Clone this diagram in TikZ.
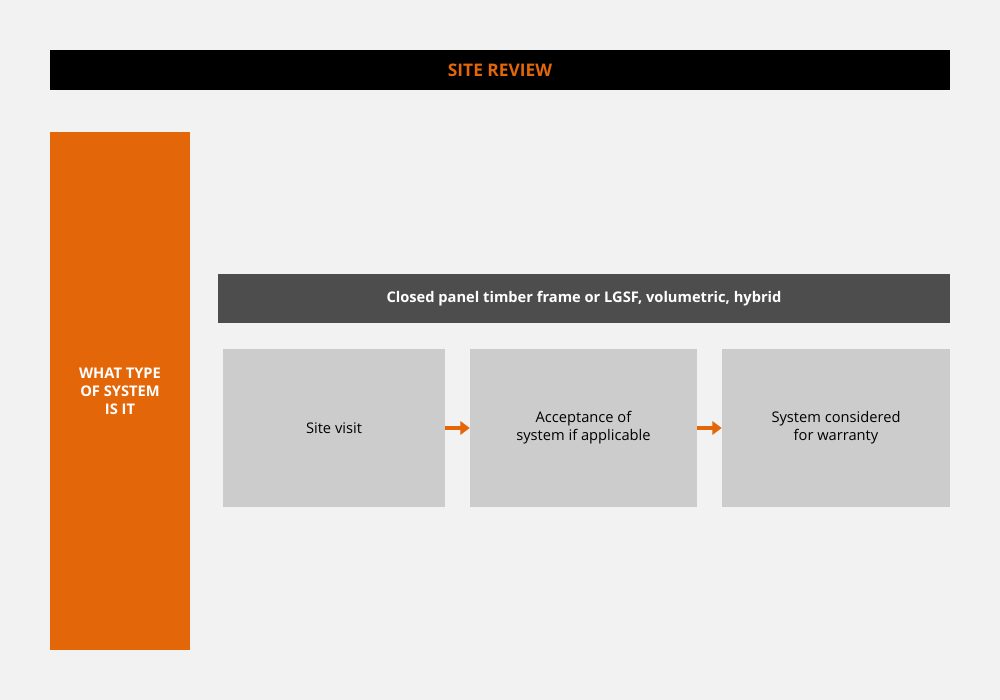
\documentclass[tikz,border=0pt]{standalone}
\usepackage{fontspec}
\setmainfont{Open Sans}
\usetikzlibrary{arrows.meta}
\definecolor{bg}{HTML}{F2F2F2}
\definecolor{org}{HTML}{E36709}
\definecolor{dgr}{HTML}{4D4D4D}
\definecolor{lgr}{HTML}{CCCCCC}
\tikzset{
  stepbox/.style={fill=lgr,draw=none,font=\fontsize{11}{13.5}\selectfont,align=center},
  flow/.style={org,line width=3pt,-{Triangle[length=7pt,width=10pt]}}
}
\begin{document}
\begin{tikzpicture}[x=0.75pt,y=-0.75pt]
\fill[bg] (0,0) rectangle (1000,700);
\useasboundingbox (0,0) rectangle (1000,700);
\fill[black] (50,50) rectangle (950,90);
\node[font=\bfseries\fontsize{13}{15}\selectfont,text=org] (title) at (500,70) {SITE REVIEW};
\fill[org] (50,132) rectangle (190,650);
\node[font=\bfseries\fontsize{11}{13.5}\selectfont,text=white,align=center] (side) at (120,391) {WHAT TYPE\\OF SYSTEM\\IS IT};
\fill[dgr] (218,274) rectangle (950,323);
\node[font=\bfseries\fontsize{11}{13.5}\selectfont,text=white] (head) at (584,298.5) {Closed panel timber frame or LGSF, volumetric, hybrid};
\node[stepbox,minimum width=222*0.75pt,minimum height=158*0.75pt] (a) at (334,428) {Site visit};
\node[stepbox,minimum width=227*0.75pt,minimum height=158*0.75pt] (b) at (583.5,428) {Acceptance of\\system if applicable};
\node[stepbox,minimum width=228*0.75pt,minimum height=158*0.75pt] (c) at (836,428) {System considered\\for warranty};
\draw[flow] (a.east) -- (b.west);
\draw[flow] (b.east) -- (c.west);
\end{tikzpicture}
\end{document}
